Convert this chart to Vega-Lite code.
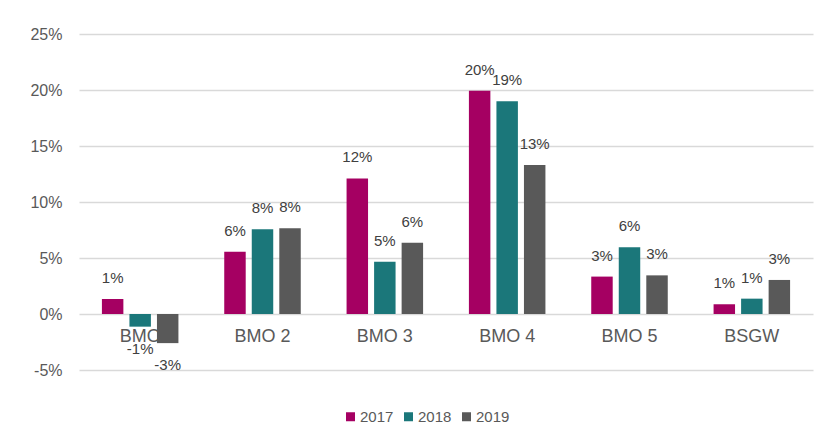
{
  "$schema": "https://vega.github.io/schema/vega-lite/v6.json",
  "width": 734,
  "height": 336,
  "autosize": "none",
  "padding": {"left": 79, "top": 34, "right": 19, "bottom": 75},
  "background": "white",
  "config": {
    "view": {"stroke": null},
    "font": "Liberation Sans",
    "locale": {
      "number": {"decimal": ".", "thousands": ",", "grouping": [3], "currency": ["$", ""], "minus": "-"}
    }
  },
  "data": {
    "values": [
      {"cat": "BMO", "year": "2017", "value": 0.0134},
      {"cat": "BMO", "year": "2018", "value": -0.0113},
      {"cat": "BMO", "year": "2019", "value": -0.026},
      {"cat": "BMO 2", "year": "2017", "value": 0.0556},
      {"cat": "BMO 2", "year": "2018", "value": 0.0756},
      {"cat": "BMO 2", "year": "2019", "value": 0.0765},
      {"cat": "BMO 3", "year": "2017", "value": 0.121},
      {"cat": "BMO 3", "year": "2018", "value": 0.0467},
      {"cat": "BMO 3", "year": "2019", "value": 0.0637},
      {"cat": "BMO 4", "year": "2017", "value": 0.1994},
      {"cat": "BMO 4", "year": "2018", "value": 0.19},
      {"cat": "BMO 4", "year": "2019", "value": 0.133},
      {"cat": "BMO 5", "year": "2017", "value": 0.0334},
      {"cat": "BMO 5", "year": "2018", "value": 0.0595},
      {"cat": "BMO 5", "year": "2019", "value": 0.0345},
      {"cat": "BSGW", "year": "2017", "value": 0.0087},
      {"cat": "BSGW", "year": "2018", "value": 0.0137},
      {"cat": "BSGW", "year": "2019", "value": 0.0304}
    ]
  },
  "encoding": {
    "x": {
      "field": "cat",
      "type": "nominal",
      "sort": null,
      "scale": {"paddingInner": 0.325, "paddingOuter": 0.1625},
      "axis": {
        "title": null,
        "orient": "bottom",
        "offset": -56,
        "domain": false,
        "ticks": false,
        "labelAngle": 0,
        "labelFontSize": 18,
        "labelColor": "#595959",
        "labelBaseline": "middle",
        "labelPadding": 22
      }
    },
    "xOffset": {
      "field": "year",
      "type": "nominal",
      "scale": {"paddingInner": 0.22, "paddingOuter": 0.11}
    },
    "y": {
      "field": "value",
      "type": "quantitative",
      "scale": {"domain": [-0.05, 0.25], "nice": false, "zero": false},
      "axis": {
        "title": null,
        "values": [-0.05, 0, 0.05, 0.1, 0.15, 0.2, 0.25],
        "format": ".0%",
        "domain": false,
        "ticks": false,
        "labelFontSize": 16,
        "labelColor": "#595959",
        "labelPadding": 17,
        "gridColor": "#d9d9d9",
        "gridWidth": 1.5
      }
    }
  },
  "layer": [
    {
      "mark": {"type": "bar"},
      "encoding": {
        "color": {
          "field": "year",
          "type": "nominal",
          "scale": {"domain": ["2017", "2018", "2019"], "range": ["#A50062", "#1B777A", "#595959"]},
          "legend": {
            "title": null,
            "orient": "none",
            "direction": "horizontal",
            "legendX": 264,
            "legendY": 375,
            "symbolType": "square",
            "symbolSize": 81,
            "symbolStrokeWidth": 0,
            "labelFontSize": 15,
            "labelColor": "#595959",
            "labelOffset": 2,
            "columnPadding": 7
          }
        }
      }
    },
    {
      "transform": [{"filter": "datum.value >= 0"}],
      "mark": {"type": "text", "dy": -21, "baseline": "middle", "fontSize": 15, "color": "#404040"},
      "encoding": {
        "text": {"field": "value", "type": "quantitative", "format": ".0%"}
      }
    },
    {
      "transform": [{"filter": "datum.value < 0"}],
      "mark": {"type": "text", "dy": 22, "baseline": "middle", "fontSize": 15, "color": "#404040"},
      "encoding": {
        "text": {"field": "value", "type": "quantitative", "format": ".0%"}
      }
    }
  ]
}
